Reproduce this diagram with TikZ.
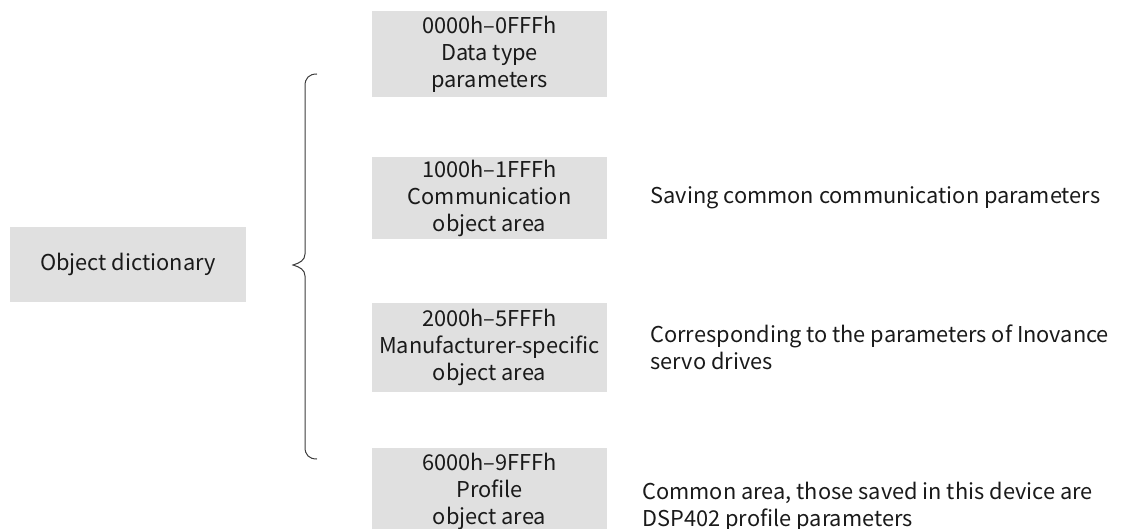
\documentclass[tikz,border=0pt]{standalone}
\usepackage{fontspec}
\setmainfont{Noto Sans CJK SC}
\usepackage{tikz}
\usetikzlibrary{positioning}
\definecolor{boxGray}{RGB}{224,224,224}
\definecolor{txtGray}{RGB}{26,26,26}
\definecolor{lineGray}{RGB}{60,60,60}
\tikzset{
  box/.style={rectangle, fill=boxGray, align=center, minimum width=235pt, inner sep=0pt, text=txtGray, font=\fontsize{21.8}{27}\selectfont},
  desc/.style={rectangle, align=left, inner sep=0pt, anchor=west, text=txtGray, font=\fontsize{21.8}{27}\selectfont},
  bracket/.style={draw=lineGray, line width=1pt}
}

\begin{document}
\begin{tikzpicture}[x=1pt, y=-1pt]
  \clip (0,0) rectangle (1121,529);
  \node[box, minimum width=236pt, minimum height=75pt] (dict) at (128,264.5) {Object dictionary};
  \node[box, minimum height=86pt] (dtype) at (489.5,54) {0000h–0FFFh\\Data type\\parameters};
  \node[box, minimum height=82pt] (comm) at (489.5,198) {1000h–1FFFh\\Communication\\object area};
  \node[box, minimum height=89pt] (manu) at (489.5,347.5) {2000h–5FFFh\\Manufacturer-specific\\object area};
  \node[box, minimum height=86pt] (prof) at (489.5,491) {6000h–9FFFh\\Profile\\object area};
  \node[desc, right=43pt of comm] (commtxt) {Saving common communication parameters};
  \node[desc, right=43pt of manu] (manutxt) {Corresponding to the parameters of Inovance\\servo drives};
  \node[desc, right=35pt of prof, yshift=-16pt] (proftxt) {Common area, those saved in this device are\\DSP402 profile parameters};
  \coordinate (bt) at (317,74);
  \coordinate (tip) at (293,265);
  \coordinate (bb) at (317,459);
  \draw[bracket] (bt) .. controls (309,74) and (305,78) .. (305,86) -- (305,254)
    .. controls (305,260) and (300,263) .. (tip)
    .. controls (300,267) and (305,270) .. (305,276) -- (305,447)
    .. controls (305,455) and (309,459) .. (bb);
\end{tikzpicture}
\end{document}
